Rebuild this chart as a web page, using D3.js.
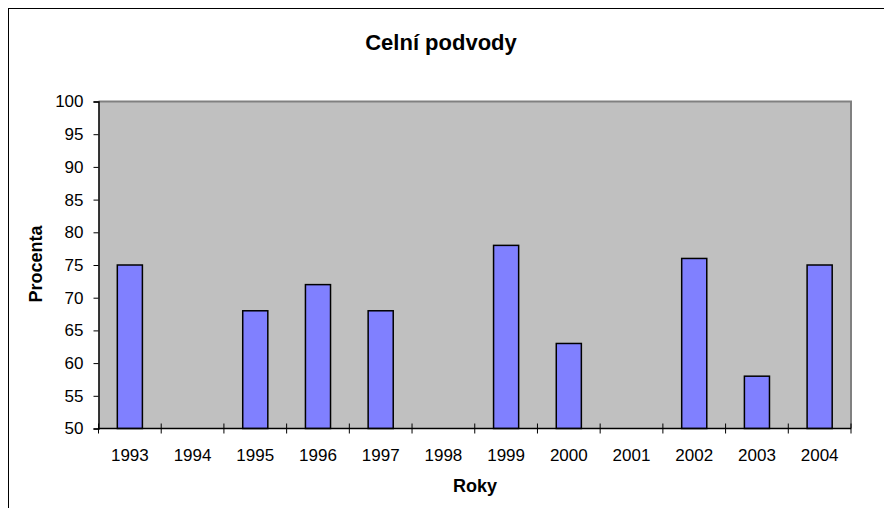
<!DOCTYPE html>
<html><head><meta charset="utf-8">
<script src="https://cdn.jsdelivr.net/npm/d3@7"></script>
<style>body{margin:0;background:#fff}svg{display:block}text{font-family:Arial,"Liberation Sans",sans-serif}</style>
</head><body>
<svg id="c" width="884" height="508"></svg>
<script>
const categories = ["1993","1994","1995","1996","1997","1998","1999","2000","2001","2002","2003","2004"];
const values = [75, null, 68, 72, 68, null, 78, 63, null, 76, 58, 75];
const yTicks = [50,55,60,65,70,75,80,85,90,95,100];

const svg = d3.select("#c");
svg.append("rect").attr("x",8.5).attr("y",8.5).attr("width",900).attr("height",600)
  .attr("fill","#fff").attr("stroke","#000").attr("stroke-width",1);

const L=98.5, R=851, T=101.5, B=428.5;
const x = d3.scaleBand().domain(categories).range([L,R]).paddingInner(0.6).paddingOuter(0.3);
const xb = d3.scaleBand().domain(categories).range([L,R]);
const y = d3.scaleLinear().domain([50,100]).range([B,T]);

svg.append("rect").attr("x",L).attr("y",T).attr("width",R-L).attr("height",B-T).attr("fill","#c0c0c0");
svg.append("path").attr("d",`M${L},${T}H${R}V${B}`).attr("fill","none").attr("stroke","#808080").attr("stroke-width",2);

const data = categories.map((c,i)=>({c,v:values[i]})).filter(d=>d.v!=null);
svg.append("g").selectAll("rect").data(data).join("rect")
  .attr("x",d=>x(d.c)).attr("width",x.bandwidth())
  .attr("y",d=>y(d.v)).attr("height",d=>y(50)-y(d.v))
  .attr("fill","#8080ff").attr("stroke","#000").attr("stroke-width",1.5);

// y axis
const ya = svg.append("g").attr("transform",`translate(${L},0)`)
  .call(d3.axisLeft(y).tickValues(yTicks).tickSize(5).tickPadding(10));
ya.select(".domain").attr("stroke","#000").attr("stroke-width",1.5);
ya.selectAll(".tick line").attr("stroke","#000");
ya.selectAll("text").style("font-size","17px").style("font-family","Arial, 'Liberation Sans', sans-serif").attr("fill","#000");

// x axis
const xa = svg.append("g").attr("transform",`translate(0,${B})`);
xa.append("line").attr("x1",L).attr("x2",R).attr("y1",0).attr("y2",0).attr("stroke","#000").attr("stroke-width",1.5);
const edges = categories.map(c=>xb(c)).concat([R]);
xa.selectAll("line.t").data(edges).join("line").attr("class","t")
  .attr("x1",d=>d).attr("x2",d=>d).attr("y1",-5).attr("y2",5).attr("stroke","#000");
xa.selectAll("text").data(categories).join("text")
  .attr("x",d=>xb(d)+xb.bandwidth()/2).attr("y",32)
  .attr("text-anchor","middle").style("font-size","17px").attr("fill","#000").text(d=>d);

svg.append("text").attr("x",441).attr("y",50).attr("text-anchor","middle")
  .style("font-size","22px").attr("font-weight","bold").text("Celní podvody");
svg.append("text").attr("transform","translate(42,264) rotate(-90)").attr("text-anchor","middle")
  .style("font-size","18px").attr("font-weight","bold").text("Procenta");
svg.append("text").attr("x",475).attr("y",492).attr("text-anchor","middle")
  .style("font-size","18px").attr("font-weight","bold").text("Roky");
</script>
</body></html>
